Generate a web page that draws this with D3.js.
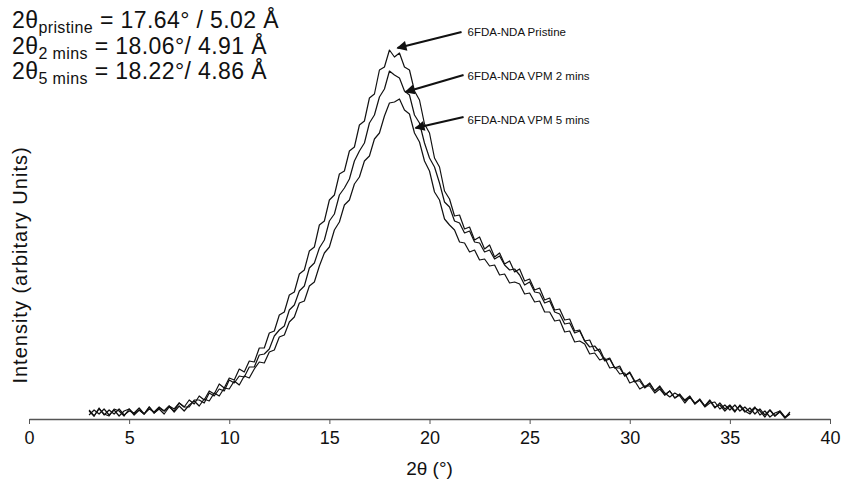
<!DOCTYPE html>
<html lang="en">
<head>
<meta charset="utf-8">
<script src="https://d3js.org/d3.v7.min.js"></script>
<style>
  body { margin: 0; background: #fff; }
  text { font-family: "Liberation Sans", Arial, sans-serif; fill: #111; }
  .trace { fill: none; stroke: #111; stroke-width: 1.2px; stroke-linejoin: round; }
  .axis path, .axis line { stroke: #555; }
  .arrow { stroke: #111; stroke-width: 2.2px; }
</style>
</head>
<body>
<svg id="chart" width="844" height="495"></svg>
<script>
// 2theta grid of the scans (degrees)
var thetaStart = 3, thetaStep = 0.25;

// intensities (arbitrary units)
var pristine = [9,3,11,4,9,5,10,4,8,6, 11,5,10,7,12,8,13,10,16,12,
  19,15,23,19,28,25,35,31,41,39, 50,47,58,57,71,71,86,88,104,107,
  124,127,145,149,168,172,194,198,219,224, 245,248,268,272,294,298,321,325,349,352,
  369,362,366,352,349,328,319,295,286,261, 252,228,220,203,204,190,192,179,182,170,
  174,162,166,155,158,147,150,138,140,129, 131,119,121,109,110,99,100,88,89,78,
  79,68,70,59,61,51,53,43,46,37, 40,32,36,28,32,24,28,21,25,18,
  22,15,20,13,18,11,16,10,14,8, 13,7,11,5,10,4,9,3,8,2, 5];

var vpm2 = [8,3,10,5,3,10,8,3,10,5, 9,5,12,6,10,5,12,8,16,12,
  12,19,19,16,26,23,30,28,39,36, 43,42,52,52,64,65,70,83,89,93,
  109,114,128,133,151,156,171,179,198,205, 224,231,240,258,268,276,296,304,322,330,
  348,344,341,328,324,304,296,276,261,252, 236,217,212,198,196,186,188,177,176,167,
  169,160,163,154,149,150,144,134,137,127, 126,116,118,107,105,95,96,86,88,78,
  72,73,67,58,60,51,51,43,47,38, 38,31,35,28,33,26,22,26,23,16,
  22,16,19,13,19,12,14,8,13,7, 14,8,5,11,8,2,9,3,7,1, 7];

var vpm5 = [4,9,5,10,4,9,3,8,10,4, 9,5,12,6,11,8,13,7,13,8,
  14,18,13,20,18,26,23,31,30,38, 34,43,41,50,57,56,67,69,82,84,
  97,102,116,118,133,137,153,166,172,189, 197,214,219,235,242,258,263,280,286,303,
  316,317,320,309,305,286,277,258,248,227, 219,200,194,189,177,176,167,169,159,160,
  153,154,144,145,136,137,135,125,126,117, 118,107,107,98,99,87,88,77,78,75,
  65,66,59,61,51,52,45,46,36,38, 30,33,33,26,30,24,28,21,24,19,
  23,15,19,12,16,17,10,14,9,14, 8,12,7,12,4,8,2,6,8,1, 5];

var seriesNames = ["6FDA-NDA Pristine", "6FDA-NDA VPM 2 mins", "6FDA-NDA VPM 5 mins"];
var seriesData = [pristine, vpm2, vpm5];

// arrow annotations: [tail theta, tail I, tip theta, tip I]
var arrowPts = [[21.6, 387, 18.4, 371], [21.7, 344, 18.8, 327], [21.7, 302, 19.3, 291]];
var labelTheta = 21.9;
var labelI = [387, 343, 299];

var xTicks = [0, 5, 10, 15, 20, 25, 30, 35, 40];

var peakSubs = ["pristine", "2 mins", "5 mins"];
var peakText = [" = 17.64° / 5.02 Å", "  = 18.06°/ 4.91 Å", "  = 18.22°/ 4.86 Å"];

var svg = d3.select("#chart");

var x = d3.scaleLinear().domain([0, 40]).range([29, 830]);
var y = d3.scaleLinear().domain([0, 370]).range([419, 49]);

var line = d3.line()
  .x(function(d, i) { return x(thetaStart + i * thetaStep); })
  .y(function(d) { return y(d); });

svg.selectAll("path.trace")
  .data(seriesData)
  .enter().append("path")
  .attr("class", "trace")
  .attr("d", line);

var xAxis = svg.append("g")
  .attr("class", "axis")
  .attr("transform", "translate(0," + y(0) + ")")
  .call(d3.axisBottom(x).tickValues(xTicks).tickSize(5).tickSizeOuter(0).tickPadding(7));
xAxis.selectAll("text").style("font-size", "18px").attr("fill", "#111");
xAxis.select(".domain").attr("stroke-width", 1.3);

svg.append("text")
  .attr("x", x(20)).attr("y", 475)
  .attr("text-anchor", "middle")
  .style("font-size", "19px")
  .text("2θ (°)");

svg.append("text")
  .attr("transform", "translate(27,265) rotate(-90)")
  .attr("text-anchor", "middle")
  .style("font-size", "20px")
  .style("letter-spacing", "1px")
  .text("Intensity (arbitary Units)");

// arrows
svg.append("defs").append("marker")
  .attr("id", "head")
  .attr("markerUnits", "userSpaceOnUse")
  .attr("viewBox", "0 0 10 10")
  .attr("refX", 9).attr("refY", 5)
  .attr("markerWidth", 11).attr("markerHeight", 10)
  .attr("orient", "auto")
  .append("path").attr("d", "M0,0L10,5L0,10z").attr("fill", "#111");

svg.selectAll("line.arrow")
  .data(arrowPts)
  .enter().append("line")
  .attr("class", "arrow")
  .attr("x1", function(d) { return x(d[0]); })
  .attr("y1", function(d) { return y(d[1]); })
  .attr("x2", function(d) { return x(d[2]); })
  .attr("y2", function(d) { return y(d[3]); })
  .attr("marker-end", "url(#head)");

svg.selectAll("text.lbl")
  .data(seriesNames)
  .enter().append("text")
  .attr("class", "lbl")
  .attr("x", x(labelTheta))
  .attr("y", function(d, i) { return y(labelI[i]); })
  .attr("dy", "0.35em")
  .style("font-size", "11.5px")
  .text(function(d) { return d; });

// peak positions, top left
var peaks = svg.append("g");
peakSubs.forEach(function(s, i) {
  var t = peaks.append("text")
    .attr("x", 12).attr("y", 28 + i * 25.5)
    .style("font-size", "23px")
    .style("letter-spacing", "0.4px");
  t.append("tspan").text("2θ");
  t.append("tspan").attr("dy", 5).style("font-size", "16px").text(s);
  t.append("tspan").attr("dy", -5).text(peakText[i]);
});
</script>
</body>
</html>
